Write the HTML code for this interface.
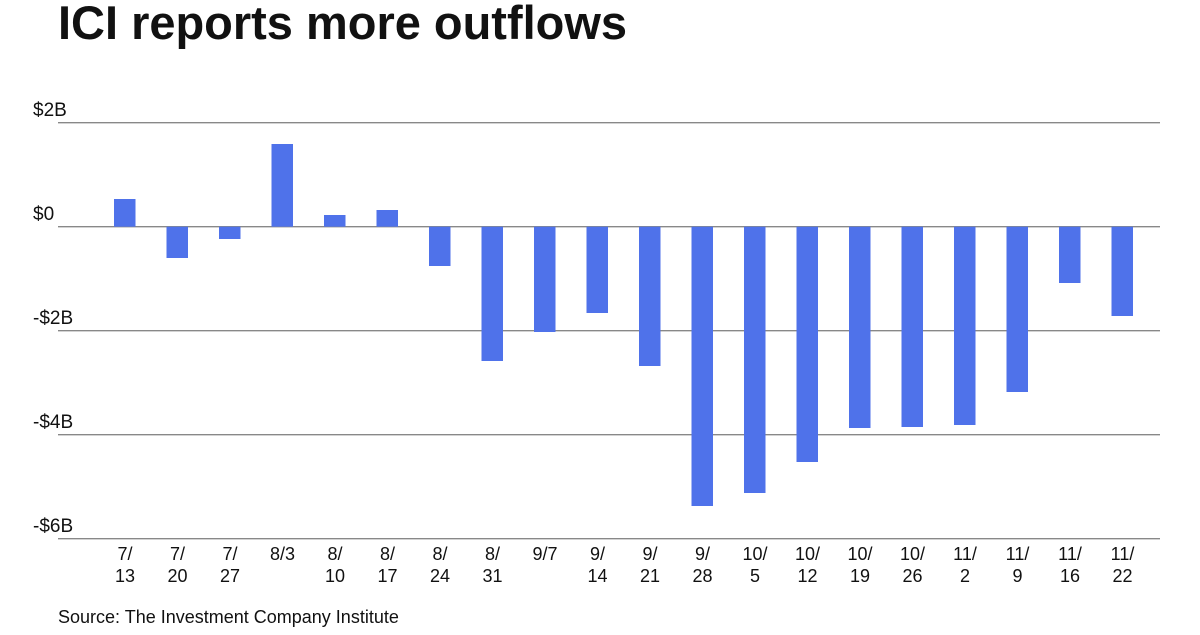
<!DOCTYPE html>
<html><head><style>
body{margin:0;background:#fff;font-family:"Liberation Sans",sans-serif;}
svg text{font-family:"Liberation Sans",sans-serif;}
</style></head><body>
<svg width="1200" height="630" xmlns="http://www.w3.org/2000/svg">
<text x="58" y="39" font-size="47" font-weight="bold" fill="#111" textLength="569" lengthAdjust="spacingAndGlyphs">ICI reports more outflows</text>
<g stroke="#888" stroke-width="1.3">
<line x1="58" y1="122.7" x2="1160" y2="122.7"/>
<line x1="58" y1="226.7" x2="1160" y2="226.7"/>
<line x1="58" y1="330.7" x2="1160" y2="330.7"/>
<line x1="58" y1="434.7" x2="1160" y2="434.7"/>
<line x1="58" y1="538.7" x2="1160" y2="538.7"/>
</g>
<g font-size="19" fill="#111">
<text x="33" y="116">$2B</text>
<text x="33" y="220">$0</text>
<text x="33" y="324">-$2B</text>
<text x="33" y="428">-$4B</text>
<text x="33" y="532">-$6B</text>
</g>
<g fill="#4f72ea" id="bars"></g>
<g font-size="18" fill="#111" text-anchor="middle" id="labels"></g>
<text x="58" y="623" font-size="18" fill="#111">Source: The Investment Company Institute</text>
</svg>
<script>
var vals=[199,258,239,144,215,210,266,361,332,313,366,506,493,462,428,427,425,392,283,316];
var labs=[["7/","13"],["7/","20"],["7/","27"],["8/3",""],["8/","10"],["8/","17"],["8/","24"],["8/","31"],["9/7",""],["9/","14"],["9/","21"],["9/","28"],["10/","5"],["10/","12"],["10/","19"],["10/","26"],["11/","2"],["11/","9"],["11/","16"],["11/","22"]];
var ns="http://www.w3.org/2000/svg",b=document.getElementById("bars"),l=document.getElementById("labels");
vals.forEach(function(v,i){var x=114+i*52.5;var r=document.createElementNS(ns,"rect");
var y0=226.7;r.setAttribute("x",x);r.setAttribute("width",21.5);r.setAttribute("y",Math.min(v,y0));r.setAttribute("height",Math.abs(v-y0));b.appendChild(r);
labs[i].forEach(function(s,j){if(!s)return;var t=document.createElementNS(ns,"text");t.setAttribute("x",x+11);t.setAttribute("y",560+j*22);t.textContent=s;l.appendChild(t);});});
</script>
</body></html>
